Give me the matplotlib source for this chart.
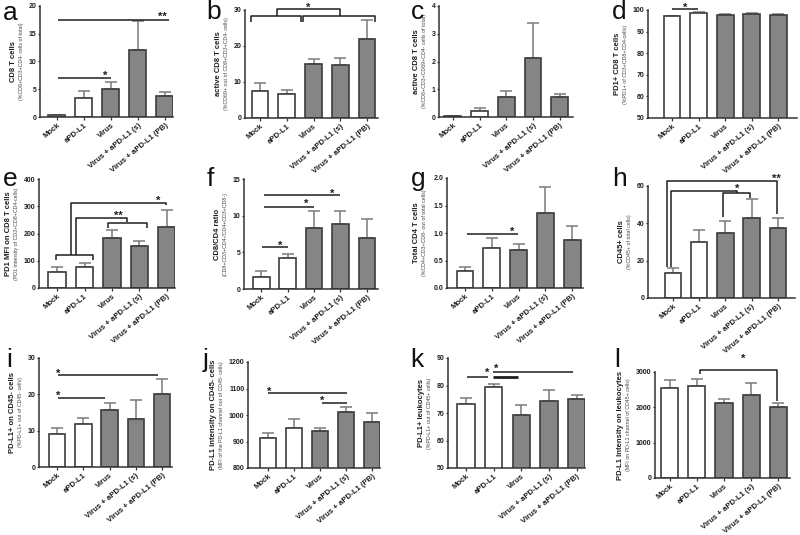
import matplotlib
matplotlib.use('Agg')
import matplotlib.pyplot as plt
import numpy as np

plt.rcParams['font.family'] = ['Liberation Sans', 'DejaVu Sans']

# ---------------- data ----------------
groups = ["Mock", "aPD-L1", "Virus", "Virus + aPD-L1 (s)", "Virus + aPD-L1 (PB)"]

a_mean = [0.3, 3.4, 5.1, 12.0, 3.8]
a_err = [0.15, 1.3, 1.2, 5.3, 0.7]
b_mean = [7.5, 6.7, 14.9, 14.7, 21.9]
b_err = [2.2, 1.0, 1.5, 2.1, 5.4]
c_mean = [0.02, 0.22, 0.72, 2.12, 0.72]
c_err = [0.01, 0.10, 0.20, 1.27, 0.11]
d_mean = [97.0, 98.5, 97.5, 98.2, 97.7]
d_err = [0.4, 0.4, 0.6, 0.5, 0.5]
e_mean = [60, 77, 185, 155, 225]
e_err = [18, 13, 27, 18, 62]
f_mean = [1.7, 4.2, 8.3, 8.8, 6.9]
f_err = [0.7, 0.6, 2.3, 1.8, 2.7]
g_mean = [0.31, 0.73, 0.69, 1.37, 0.88]
g_err = [0.08, 0.18, 0.11, 0.46, 0.25]
h_mean = [13.5, 30.0, 35.0, 43.0, 37.5]
h_err = [2.5, 6.5, 6.0, 10.0, 5.5]
i_mean = [9.2, 11.8, 15.6, 13.3, 20.2]
i_err = [1.6, 1.7, 2.0, 5.2, 4.1]
j_mean = [915, 952, 940, 1010, 975]
j_err = [17, 33, 12, 20, 33]
k_mean = [73.2, 79.3, 69.3, 74.2, 75.1]
k_err = [2.3, 1.3, 3.7, 4.0, 1.5]
l_mean = [2540, 2590, 2120, 2350, 2000]
l_err = [240, 210, 120, 350, 110]

titles = {
    'a': ("CD8 T cells", "(%CD8+CD3+CD4- cells of total)"),
    'b': ("active CD8 T cells", "(%CD69+ out of CD8+CD3+CD4- cells)"),
    'c': ("active CD8 T cells", "(%CD8+CD3+CD69+CD4- cells of total)"),
    'd': ("PD1+ CD8 T cells", "(%PD1+ of CD3+CD8+CD4-cells)"),
    'e': ("PD1 MFI on CD8 T cells", "(PD1 intensity of CD3+CD8+CD4-cells)"),
    'f': ("CD8/CD4 ratio", "(CD8+CD3+CD4-/CD4+CD3+CD8-)"),
    'g': ("Total CD4 T cells", "(%CD4+CD3+CD8- out of total cells)"),
    'h': ("CD45+ cells", "(%CD45+ of total cells)"),
    'i': ("PD-L1+ on CD45- cells", "(%PD-L1+ out of CD45- cells)"),
    'j': ("PD-L1 intensity on CD45- cells", "(MFI of the PD-L1 channel out of CD45- cells)"),
    'k': ("PD-L1+ leukocytes", "(%PD-L1+ out of CD45+ cells)"),
    'l': ("PD-L1 Intensity on leukocytes", "(MFI on PD-L1 channel of CD45+ cells)"),
}

yticks = {
    'a': [0, 5, 10, 15, 20],
    'b': [0, 10, 20, 30],
    'c': [0, 1, 2, 3, 4],
    'd': [50, 60, 70, 80, 90, 100],
    'e': [0, 100, 200, 300, 400],
    'f': [0, 5, 10, 15],
    'g': [0.0, 0.5, 1.0, 1.5, 2.0],
    'h': [0, 20, 40, 60],
    'i': [0, 10, 20, 30],
    'j': [800, 900, 1000, 1100, 1200],
    'k': [50, 60, 70, 80, 90],
    'l': [0, 1000, 2000, 3000],
}

# significance annotations: polylines (bar index, value) and star labels
sig_lines = {
    'a': [[(0.05, 7.1), (2.0, 7.1)], [(0.05, 17.5), (4.15, 17.5)]],
    'b': [[(-0.34, 26.75), (-0.34, 28.4), (1.52, 28.4), (1.52, 26.75)],
          [(1.62, 26.75), (1.62, 28.4), (4.3, 28.4), (4.3, 26.75)],
          [(0.62, 28.4), (0.62, 30.2), (2.99, 30.2), (2.99, 28.4)]],
    'c': [],
    'd': [[(0.0, 100.3), (0.98, 100.3)]],
    'e': [[(-0.05, 103), (-0.05, 121), (1.3, 121), (1.3, 103)],
          [(0.5, 121), (0.5, 313), (3.96, 313), (3.96, 305)],
          [(0.68, 121), (0.68, 256), (2.55, 256), (2.55, 243)],
          [(1.86, 221), (1.86, 237), (3.28, 237), (3.28, 221)]],
    'f': [[(0.04, 5.7), (1.0, 5.7)], [(0.1, 11.2), (2.0, 11.2)], [(0.1, 12.8), (2.97, 12.8)]],
    'g': [[(0.07, 0.99), (1.97, 0.99)]],
    'h': [[(-0.23, 16.5), (-0.23, 62.7), (3.97, 62.7), (3.97, 45)],
          [(-0.08, 16.5), (-0.08, 57.3), (2.44, 57.3), (2.44, 56.2)],
          [(1.91, 43.5), (1.91, 56.2), (2.94, 56.2), (2.94, 53.5)]],
    'i': [[(0.04, 25.3), (3.86, 25.3)], [(0.04, 19.1), (1.83, 19.1)]],
    'j': [[(0.0, 1082), (3.03, 1082)], [(2.07, 1047), (3.03, 1047)]],
    'k': [[(0.03, 83.2), (0.8, 83.2)], [(0.98, 84.8), (3.86, 84.8)]],
    'l': [[(1.1, 2950), (1.1, 3050), (3.96, 3050), (3.96, 2180)]],
}
sig_thick = {'k': [[(0.98, 83.2), (1.88, 83.2)]]}
sig_stars = {
    'a': [(1.78, 8.1, '*'), (3.9, 18.6, '**')],
    'b': [(1.79, 31.6, '*')],
    'c': [],
    'd': [(0.5, 102.8, '*')],
    'e': [(3.7, 331, '*'), (2.23, 276, '**')],
    'f': [(0.72, 6.3, '*'), (1.7, 12.1, '*'), (2.67, 13.5, '*')],
    'g': [(1.77, 1.09, '*')],
    'h': [(3.93, 65.9, '**'), (2.44, 60.5, '*')],
    'i': [(0.04, 26.7, '*'), (0.04, 20.5, '*')],
    'j': [(0.05, 1102, '*'), (2.07, 1065, '*')],
    'k': [(0.75, 86.0, '*'), (1.1, 87.4, '*')],
    'l': [(2.7, 3480, '*')],
}

means = {'a': a_mean, 'b': b_mean, 'c': c_mean, 'd': d_mean, 'e': e_mean, 'f': f_mean,
         'g': g_mean, 'h': h_mean, 'i': i_mean, 'j': j_mean, 'k': k_mean, 'l': l_mean}
errs = {'a': a_err, 'b': b_err, 'c': c_err, 'd': d_err, 'e': e_err, 'f': f_err,
        'g': g_err, 'h': h_err, 'i': i_err, 'j': j_err, 'k': k_err, 'l': l_err}

# ---------------- layout (pixels) ----------------
W, H = 800, 535
rects = {  # left, top, right, bottom
    'a': (40, 6, 173, 117), 'b': (245, 10, 378, 118), 'c': (439, 6, 573, 117), 'd': (648, 10, 797, 118),
    'e': (39, 179, 175, 288), 'f': (244, 179, 378, 289), 'g': (447, 178, 583, 288), 'h': (648, 186, 795, 298),
    'i': (39, 358, 172, 467), 'j': (248, 362, 380, 468), 'k': (448, 358, 585, 468), 'l': (655, 372, 790, 478),
}
xlims = {
    'a': (-0.63, 4.3), 'b': (-0.56, 4.41), 'c': (-0.52, 4.5), 'd': (-0.9, 4.7),
    'e': (-0.66, 4.3), 'f': (-0.65, 4.42), 'g': (-0.67, 4.4), 'h': (-0.95, 4.65),
    'i': (-0.69, 4.38), 'j': (-0.77, 4.3), 'k': (-0.65, 4.3), 'l': (-0.55, 4.44),
}
letter_pos = {
    'a': (3, 20), 'b': (206, 19), 'c': (411, 19), 'd': (612, 19),
    'e': (3, 186), 'f': (207, 186), 'g': (411, 186), 'h': (612, 186),
    'i': (6, 367), 'j': (203, 367), 'k': (410, 367), 'l': (614, 367),
}

WHITE = '#ffffff'
GRAY = '#858585'
EDGE = '#3c3c3c'
ERR = '#7a7a7a'
INK = '#1e1e1e'
TICK_FS = 5.0
DIGIT_PX = 3.9

fig = plt.figure(figsize=(W / 100, H / 100), dpi=100)
fig.patch.set_facecolor('white')

x = np.arange(len(groups))
fills = [WHITE, WHITE, GRAY, GRAY, GRAY]

for key in 'abcdefghijkl':
    l, t, r, b = rects[key]
    ax = fig.add_axes([l / W, 1 - b / H, (r - l) / W, (b - t) / H])
    m = np.array(means[key], dtype=float)
    e = np.array(errs[key], dtype=float)
    ax.errorbar(x, m, yerr=[np.zeros_like(e), e], fmt='none', ecolor=ERR,
                elinewidth=1.1, capsize=4, capthick=1.1, zorder=1)
    ax.bar(x, m, width=0.63, color=fills, edgecolor=EDGE, linewidth=1.2, zorder=2)
    yt = yticks[key]
    ax.set_ylim(yt[0], yt[-1])
    ax.set_yticks(yt)
    if key == 'g':
        ylabels = [f"{v:.1f}" for v in yt]
    else:
        ylabels = [f"{v:g}" for v in yt]
    ax.set_yticklabels(ylabels)
    ax.set_xlim(*xlims[key])
    ax.set_xticks(x)
    ax.set_xticklabels(groups, rotation=40, ha='right', va='top', rotation_mode='anchor',
                       fontsize=5.6, fontweight='bold', color=INK)
    for lab in ax.get_yticklabels():
        lab.set_fontsize(TICK_FS)
        lab.set_fontweight('bold')
        lab.set_color(INK)
    for s in ['top', 'right']:
        ax.spines[s].set_visible(False)
    for s in ['left', 'bottom']:
        ax.spines[s].set_color('#333333')
        ax.spines[s].set_linewidth(1.1)
    ax.tick_params(axis='y', direction='out', length=1.8, width=0.9, color='#333333', pad=0.8)
    ax.tick_params(axis='x', direction='out', length=2.2, width=0.9, color='#333333', pad=1.2)
    ax.set_facecolor('none')

    for line in sig_lines[key]:
        xs, ys = zip(*line)
        ax.plot(xs, ys, color=INK, lw=1.1, clip_on=False, zorder=5, solid_capstyle='butt')
    for line in sig_thick.get(key, []):
        xs, ys = zip(*line)
        ax.plot(xs, ys, color=INK, lw=2.0, clip_on=False, zorder=5, solid_capstyle='butt')
    for sx, sy, st in sig_stars[key]:
        ax.annotate(st, (sx, sy), xytext=(0, -2.5), textcoords='offset points',
                    ha='center', va='center', fontsize=8, fontweight='bold',
                    color=INK, annotation_clip=False)

    main, sub = titles[key]
    ymid = 1 - (t + b) / 2 / H
    nchar = max(len(s_) for s_ in ylabels)
    wlab = nchar * DIGIT_PX
    mx = l - (wlab + 19)
    sx_ = l - (wlab + 11)
    fig.text(mx / W, ymid, main, rotation=90, ha='center', va='center',
             fontsize=5.5, fontweight='bold', color=INK)
    fig.text(sx_ / W, ymid, sub, rotation=90, ha='center', va='center',
             fontsize=3.8, color='#444444')

    lx, ly = letter_pos[key]
    fig.text(lx / W, 1 - ly / H, key, ha='left', va='baseline', fontsize=19, color='#111111')

fig.savefig('out.png', dpi=100, facecolor='white')
